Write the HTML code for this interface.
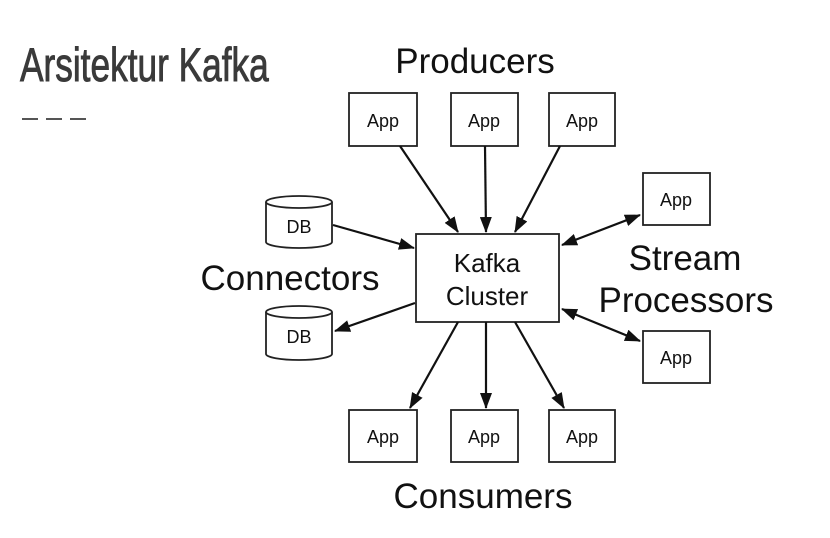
<!DOCTYPE html>
<html><head><meta charset="utf-8"><style>
body{margin:0;background:#fff;}
svg text{font-family:"Liberation Sans",sans-serif;fill:#111;}
</style></head><body>
<svg width="830" height="533" viewBox="0 0 830 533" xmlns="http://www.w3.org/2000/svg">
<defs>
<marker id="b" markerWidth="16" markerHeight="12" refX="15" refY="6" orient="auto-start-reverse" markerUnits="userSpaceOnUse" viewBox="0 0 16 12"><path d="M0,0L16,6L0,12z" fill="#111"/></marker></defs>
<text x="20" y="81" font-size="47" transform="translate(20 0) scale(0.75 1) translate(-20 0)" stroke="#3a3a3a" stroke-width="0.9" style="fill:#3a3a3a;font-family:'Liberation Sans Narrow','Liberation Sans',sans-serif">Arsitektur Kafka</text>
<g stroke="#555" stroke-width="2"><line x1="22" y1="119" x2="38" y2="119"/><line x1="46" y1="119" x2="62" y2="119"/><line x1="70" y1="119" x2="86" y2="119"/></g>
<g font-size="35" text-anchor="middle">
<text x="475" y="73">Producers</text>
<text x="290" y="290">Connectors</text>
<text x="685" y="270">Stream</text>
<text x="686" y="312">Processors</text>
<text x="483" y="508">Consumers</text>
</g>
<g fill="#fff" stroke="#222" stroke-width="1.8">
<rect x="349" y="93" width="68" height="53"/><rect x="451" y="93" width="67" height="53"/><rect x="549" y="93" width="66" height="53"/>
<rect x="643" y="173" width="67" height="52"/><rect x="643" y="331" width="67" height="52"/>
<rect x="349" y="410" width="68" height="52"/><rect x="451" y="410" width="67" height="52"/><rect x="549" y="410" width="66" height="52"/>
<rect x="416" y="234" width="143" height="88"/>
<path d="M266,202 v40 a33,6 0 0 0 66,0 v-40"/><ellipse cx="299" cy="202" rx="33" ry="6"/>
<path d="M266,312 v42 a33,6 0 0 0 66,0 v-42"/><ellipse cx="299" cy="312" rx="33" ry="6"/>
</g>
<g font-size="18" text-anchor="middle">
<text x="383" y="127">App</text><text x="484" y="127">App</text><text x="582" y="127">App</text>
<text x="676" y="206">App</text><text x="676" y="364">App</text>
<text x="383" y="443">App</text><text x="484" y="443">App</text><text x="582" y="443">App</text>
<text x="299" y="233">DB</text><text x="299" y="343">DB</text>
</g>
<g font-size="26" text-anchor="middle"><text x="487" y="272">Kafka</text><text x="487" y="305">Cluster</text></g>
<g stroke="#111" stroke-width="2.2" fill="none" marker-end="url(#b)">
<line x1="400" y1="146" x2="458" y2="232"/><line x1="485" y1="146" x2="486" y2="232"/><line x1="560" y1="146" x2="515" y2="232"/>
<line x1="333" y1="225" x2="414" y2="248"/><line x1="415" y1="303" x2="335" y2="331"/>
<line x1="640" y1="215" x2="562" y2="245" marker-start="url(#b)"/><line x1="562" y1="309" x2="640" y2="341" marker-start="url(#b)"/>
<line x1="458" y1="322" x2="410" y2="408"/><line x1="486" y1="322" x2="486" y2="408"/><line x1="515" y1="322" x2="564" y2="408"/>
</g>
</svg>
</body></html>
